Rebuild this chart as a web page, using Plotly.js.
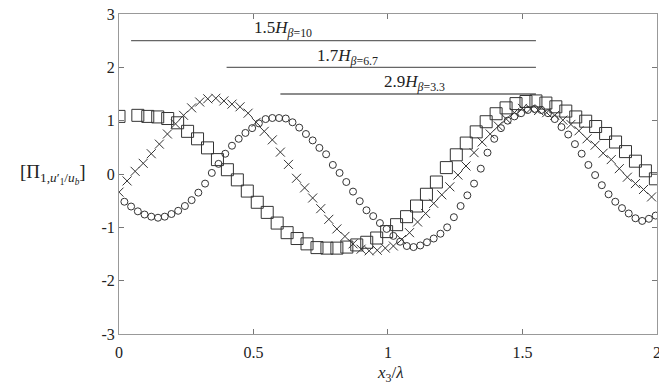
<!DOCTYPE html>
<html>
<head>
<meta charset="utf-8">
<script src="https://cdn.plot.ly/plotly-3.0.1.min.js"></script>
<style>html,body{margin:0;padding:0;background:#fff;}#plot{width:659px;height:389px;}</style>
</head>
<body>
<div id="plot"></div>
<script>
// Squares series
const sqX = [0, 0.07, 0.107, 0.144, 0.181, 0.218, 0.255, 0.292, 0.329, 0.366, 0.403, 0.44, 0.477, 0.514, 0.551, 0.588, 0.625, 0.662, 0.699, 0.736, 0.773, 0.81, 0.847, 0.884, 0.921, 0.958, 0.995, 1.032, 1.069, 1.106, 1.143, 1.18, 1.217, 1.254, 1.291, 1.328, 1.365, 1.402, 1.439, 1.476, 1.513, 1.55, 1.587, 1.624, 1.661, 1.698, 1.735, 1.772, 1.809, 1.846, 1.883, 1.92, 1.957, 1.994];
const sqY = [1.08, 1.10, 1.08, 1.07, 1.04, 0.96, 0.80, 0.66, 0.49, 0.27, 0.08, -0.11, -0.32, -0.53, -0.72, -0.92, -1.10, -1.21, -1.31, -1.38, -1.39, -1.39, -1.37, -1.33, -1.28, -1.20, -1.08, -0.95, -0.80, -0.60, -0.38, -0.15, 0.12, 0.36, 0.58, 0.79, 0.98, 1.13, 1.24, 1.32, 1.36, 1.37, 1.33, 1.26, 1.18, 1.07, 0.99, 0.89, 0.76, 0.60, 0.42, 0.24, 0.06, -0.09];

// Crosses series
const crX = [0.00, 0.03, 0.06, 0.09, 0.12, 0.15, 0.18, 0.21, 0.24, 0.27, 0.30, 0.33, 0.36, 0.39, 0.42, 0.45, 0.48, 0.51, 0.54, 0.57, 0.60, 0.63, 0.66, 0.69, 0.72, 0.75, 0.78, 0.81, 0.84, 0.87, 0.90, 0.93, 0.96, 0.99, 1.02, 1.05, 1.08, 1.11, 1.14, 1.17, 1.20, 1.23, 1.26, 1.29, 1.32, 1.35, 1.38, 1.41, 1.44, 1.47, 1.50, 1.53, 1.56, 1.59, 1.62, 1.65, 1.68, 1.71, 1.74, 1.77, 1.80, 1.83, 1.86, 1.89, 1.92, 1.95, 1.98];
const crY = [-0.34, -0.13, 0.05, 0.20, 0.38, 0.56, 0.75, 0.94, 1.10, 1.24, 1.35, 1.41, 1.42, 1.37, 1.31, 1.26, 1.14, 0.97, 0.80, 0.64, 0.41, 0.18, -0.08, -0.26, -0.45, -0.65, -0.85, -1.03, -1.17, -1.31, -1.41, -1.44, -1.43, -1.39, -1.35, -1.23, -1.10, -0.90, -0.74, -0.55, -0.39, -0.24, -0.02, 0.15, 0.40, 0.60, 0.75, 0.90, 1.03, 1.15, 1.23, 1.22, 1.19, 1.15, 1.10, 1.01, 0.93, 0.81, 0.66, 0.54, 0.39, 0.27, 0.10, -0.06, -0.18, -0.29, -0.43];

// Circles series
const ciX = [0.020, 0.045, 0.070, 0.095, 0.120, 0.145, 0.170, 0.195, 0.220, 0.245, 0.270, 0.295, 0.320, 0.345, 0.370, 0.395, 0.420, 0.445, 0.470, 0.495, 0.520, 0.545, 0.570, 0.595, 0.620, 0.645, 0.670, 0.695, 0.720, 0.745, 0.770, 0.795, 0.820, 0.845, 0.870, 0.895, 0.920, 0.945, 0.970, 0.995, 1.020, 1.045, 1.070, 1.095, 1.120, 1.145, 1.170, 1.195, 1.220, 1.245, 1.270, 1.295, 1.320, 1.345, 1.370, 1.395, 1.420, 1.445, 1.470, 1.495, 1.520, 1.545, 1.570, 1.595, 1.620, 1.645, 1.670, 1.695, 1.720, 1.745, 1.770, 1.795, 1.820, 1.845, 1.870, 1.895, 1.920, 1.945, 1.970, 1.995];
const ciY = [-0.52, -0.61, -0.70, -0.76, -0.80, -0.82, -0.80, -0.75, -0.69, -0.60, -0.49, -0.35, -0.18, 0.02, 0.19, 0.38, 0.53, 0.66, 0.77, 0.86, 0.95, 1.03, 1.05, 1.05, 1.04, 0.97, 0.87, 0.75, 0.63, 0.49, 0.37, 0.17, 0.02, -0.15, -0.33, -0.51, -0.68, -0.79, -0.92, -1.03, -1.16, -1.27, -1.35, -1.37, -1.34, -1.28, -1.21, -1.12, -1.00, -0.81, -0.60, -0.40, -0.18, 0.10, 0.40, 0.66, 0.86, 1.00, 1.08, 1.14, 1.20, 1.22, 1.20, 1.14, 1.03, 0.88, 0.74, 0.56, 0.38, 0.17, -0.02, -0.21, -0.38, -0.52, -0.64, -0.74, -0.83, -0.88, -0.84, -0.78];

// Horizontal extent lines and their labels
const spanStart = [0.045, 0.40, 0.60];
const spanEnd = [1.55, 1.55, 1.55];
const spanY = [2.5, 2.0, 1.5];
const spanLabels = ['1.5<i>H</i><sub><i>β</i>=10</sub>', '1.7<i>H</i><sub><i>β</i>=6.7</sub>', '2.9<i>H</i><sub><i>β</i>=3.3</sub>'];
const spanLabelX = [0.61, 0.85, 1.10];
const spanLabelY = [2.72, 2.2, 1.7];

// Axis ticks
const xTicks = [0, 0.5, 1, 1.5, 2];
const xTickText = ['0', '0.5', '1', '1.5', '2'];
const yTicks = [-3, -2, -1, 0, 1, 2, 3];
const yTickText = ['-3', '-2', '-1', '0', '1', '2', '3'];

const font = "'Liberation Serif', 'Times New Roman', serif";
const traces = [];
for (let i = 0; i < spanY.length; i++) {
  traces.push({x: [spanStart[i], spanEnd[i]], y: [spanY[i], spanY[i]], mode: 'lines',
    line: {color: '#666', width: 1.3}, hoverinfo: 'skip', showlegend: false});
}
traces.push({x: ciX, y: ciY, mode: 'markers', showlegend: false,
  marker: {symbol: 'circle-open', size: 7, color: '#333', line: {width: 1, color: '#333'}}});
traces.push({x: crX, y: crY, mode: 'markers', showlegend: false,
  marker: {symbol: 'x-thin-open', size: 9, color: '#333', line: {width: 1, color: '#333'}}});
traces.push({x: sqX, y: sqY, mode: 'markers', showlegend: false,
  marker: {symbol: 'square-open', size: 12, color: '#333', line: {width: 1, color: '#333'}}});

const annotations = spanLabels.map((t, i) => ({
  x: spanLabelX[i], y: spanLabelY[i], xref: 'x', yref: 'y', text: t, showarrow: false,
  font: {family: font, size: 17, color: '#222'}
}));
annotations.push({x: -0.058, y: 0, xref: 'paper', yref: 'y', xanchor: 'right', showarrow: false,
  text: '[Π<sub>1,<i>u</i>′<sub>1</sub>/<i>u<sub>b</sub></i></sub>]',
  font: {family: font, size: 19, color: '#222'}});
annotations.push({x: 0.504, y: -0.165, xref: 'paper', yref: 'paper', showarrow: false,
  text: '<i>x</i><sub>3</sub>/<i>λ</i>', font: {family: font, size: 17, color: '#222'}});

const axisCommon = {showgrid: false, zeroline: false, showline: true, linecolor: '#999', linewidth: 1,
  mirror: 'ticks', ticks: 'inside', ticklen: 5, tickcolor: '#777', tickwidth: 1,
  ticklabeloverflow: 'allow',
  tickfont: {family: font, size: 16, color: '#222'}};

const layout = {
  width: 659, height: 389,
  margin: {l: 119, r: 2, t: 14, b: 55},
  paper_bgcolor: '#fff', plot_bgcolor: '#fff',
  xaxis: Object.assign({}, axisCommon, {range: [0, 2.0001], tickvals: xTicks, ticktext: xTickText, ticklabelstandoff: 4}),
  yaxis: Object.assign({}, axisCommon, {range: [-3, 3], tickvals: yTicks, ticktext: yTickText}),
  annotations: annotations
};
Plotly.newPlot('plot', traces, layout, {staticPlot: true});
</script>
</body>
</html>
